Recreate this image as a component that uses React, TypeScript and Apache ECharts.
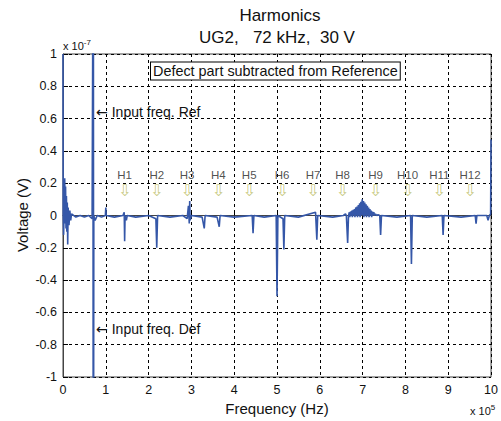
import React, { useEffect, useRef } from "react";
import * as echarts from "echarts";

// Frequency in units of 1e5 Hz, voltage in units of 1e-7 V
const freq: number[] = [
  0, 0.005, 0.015, 0.025, 0.04, 0.05, 0.06, 0.07, 0.08, 0.09, 0.1, 0.11, 0.12, 0.14, 0.16, 0.18, 0.2,
  0.3, 0.4, 0.5, 0.6, 0.68, 0.7, 0.705, 0.71, 0.715, 0.72, 0.75, 0.8, 0.9, 0.99, 1.0, 1.01,
  1.2, 1.4, 1.43, 1.44, 1.45, 1.48, 1.5, 1.7, 2.0, 2.17, 2.19, 2.21, 2.5, 2.8, 2.9, 2.93, 2.95,
  2.96, 2.97, 3.0, 3.25, 3.3, 3.32, 3.6, 3.65, 3.67, 4.0, 4.42, 4.44, 4.46, 4.7, 4.98, 5.0, 5.02,
  5.14, 5.16, 5.18, 5.5, 5.9, 5.93, 5.95, 6.3, 6.55, 6.6, 6.62, 6.65, 6.67,
  6.69, 6.7, 6.72, 6.73, 6.75, 6.76, 6.78, 6.79, 6.81, 6.82, 6.84, 6.85, 6.87, 6.88, 6.9, 6.91,
  6.93, 6.94, 6.96, 6.97, 6.99, 7.0, 7.02, 7.03, 7.05, 7.06, 7.08, 7.09, 7.11, 7.12, 7.14, 7.15,
  7.17, 7.18, 7.2, 7.21, 7.23, 7.24, 7.26, 7.28, 7.3, 7.33, 7.36, 7.4, 7.42, 7.44, 7.8, 8.12,
  8.14, 8.16, 8.5, 8.86, 8.88, 8.9, 9.3, 9.63, 9.65, 9.67, 9.9, 9.93, 9.96, 9.99, 10.0,
];
const voltage: number[] = [
  1.0, 0.0, -0.12, 0.05, 0.23, -0.05, 0.18, -0.08, 0.12, -0.1, 0.08, -0.18, 0.05, -0.06, 0.03, -0.03, 0.01,
  -0.01, 0.0, -0.01, 0.0, -0.02, 1.5, -1.5, 1.5, -1.5, 0.0, -0.03, 0.0, -0.01, 0.0, 0.05, 0.0,
  -0.01, 0.0, 0.02, -0.16, 0.0, -0.03, 0.0, -0.01, 0.0, -0.02, -0.2, 0.0, -0.01, 0.0, -0.02, 0.06, -0.05,
  0.09, -0.03, 0.0, -0.01, -0.08, 0.0, -0.01, -0.07, 0.0, -0.01, 0.0, -0.11, 0.0, -0.01, 0.0, -0.5, 0.0,
  -0.02, -0.21, 0.0, -0.01, 0.02, -0.15, 0.0, -0.01, 0.0, 0.01, 0.0, -0.17, 0.0,
  0.02, -0.01, 0.025, 0.0, 0.03, -0.01, 0.035, 0.0, 0.04, -0.01, 0.05, 0.0, 0.055, -0.01, 0.065, 0.0,
  0.075, -0.01, 0.085, 0.0, 0.1, 0.0, 0.09, -0.01, 0.08, 0.0, 0.07, -0.01, 0.06, 0.0, 0.05, -0.01,
  0.04, 0.0, 0.03, -0.01, 0.025, 0.0, 0.02, 0.0, 0.01, 0.0, 0.005, 0.0, -0.12, 0.0, -0.01, 0.0,
  -0.3, 0.0, -0.01, 0.0, -0.12, 0.0, -0.01, 0.0, -0.05, 0.0, 0.0, -0.03, 0.0, 0.01, 0.47,
];

const harmonicNames: string[] = ["H1", "H2", "H3", "H4", "H5", "H6", "H7", "H8", "H9", "H10", "H11", "H12"];
const harmonicFreq: number[] = [1.44, 2.19, 2.9, 3.63, 4.35, 5.12, 5.84, 6.53, 7.3, 8.05, 8.79, 9.51];
const harmonicLevel = 0.2;

const xTicks = { min: 0, max: 10, interval: 1 };
const yTicks = { min: -1, max: 1, interval: 0.2 };

const FONT = "'Liberation Sans', Arial, sans-serif";

export default function App() {
  const ref = useRef<HTMLDivElement>(null);
  useEffect(() => {
    if (!ref.current) return;
    const chart = echarts.init(ref.current, undefined, { renderer: "svg" });
    const lineData = freq.map((f, i) => [f, voltage[i]]);
    const harmData = harmonicFreq.map((f, i) => ({ value: [f, harmonicLevel], name: harmonicNames[i] }));
    const arrowText = (label: string) => ({
      text: `{a|←}{t|${label}}`,
      verticalAlign: "middle",
      rich: {
        a: { fontSize: 14, fontFamily: "DejaVu Sans", fill: "#111", padding: [0, 4, 0, 0] },
        t: { fontSize: 14, fontFamily: FONT, fill: "#111" },
      },
    });
    chart.setOption({
      animation: false,
      backgroundColor: "#fff",
      textStyle: { fontFamily: FONT },
      grid: {
        left: 63,
        right: 8,
        top: 54,
        bottom: 44,
        show: true,
        borderColor: "#444",
        borderWidth: 1,
        backgroundColor: "#fff",
      },
      xAxis: {
        type: "value",
        min: xTicks.min,
        max: xTicks.max,
        interval: xTicks.interval,
        axisLine: { show: true, lineStyle: { color: "#444" } },
        axisTick: { show: true, inside: true, length: 5, lineStyle: { color: "#000" } },
        axisLabel: { color: "#111", fontSize: 12.5, margin: 6, fontFamily: FONT },
        splitLine: { show: true, lineStyle: { color: "#000", type: [3, 3], width: 1 } },
      },
      yAxis: {
        type: "value",
        min: yTicks.min,
        max: yTicks.max,
        interval: yTicks.interval,
        axisLine: { show: true, lineStyle: { color: "#444" } },
        axisTick: { show: true, inside: true, length: 5, lineStyle: { color: "#000" } },
        axisLabel: {
          color: "#111",
          fontSize: 12.5,
          margin: 6,
          fontFamily: FONT,
          formatter: (v: number) => {
            const r = Math.round(v * 10) / 10;
            return r === 0 ? "0" : String(r);
          },
        },
        splitLine: { show: true, lineStyle: { color: "#000", type: [3, 3], width: 1 } },
      },
      series: [
        {
          type: "line",
          data: lineData,
          showSymbol: false,
          symbol: "none",
          clip: true,
          lineStyle: { color: "#3557a8", width: 1.6 },
          z: 3,
        },
        {
          type: "scatter",
          data: harmData,
          symbolSize: 0,
          z: 4,
          label: {
            show: true,
            position: "inside",
            formatter: (p: any) => `{h|${p.name}}\n{a|⇩}`,
            rich: {
              h: { fontSize: 11.5, color: "#222", fontFamily: FONT, lineHeight: 14 },
              a: { fontSize: 16, color: "#b9bb62", fontFamily: "DejaVu Sans", lineHeight: 17 },
            },
          },
        },
      ],
      graphic: [
        {
          type: "text",
          x: 280,
          y: 15,
          style: {
            text: "Harmonics",
            fontSize: 17,
            fill: "#111",
            fontFamily: FONT,
            align: "center",
            verticalAlign: "middle",
          },
        },
        {
          type: "text",
          x: 277,
          y: 37,
          style: {
            text: "UG2,   72 kHz,  30 V",
            fontSize: 17,
            fill: "#111",
            fontFamily: FONT,
            align: "center",
            verticalAlign: "middle",
          },
        },
        {
          type: "text",
          x: 63,
          y: 46,
          style: {
            text: "x 10{s|-7}",
            fontSize: 11,
            fill: "#111",
            fontFamily: FONT,
            verticalAlign: "middle",
            rich: { s: { fontSize: 8, padding: [0, 0, 8, 0], fill: "#111" } },
          } as any,
        },
        {
          type: "text",
          x: 470,
          y: 411,
          style: {
            text: "x 10{s|5}",
            fontSize: 11,
            fill: "#111",
            fontFamily: FONT,
            verticalAlign: "middle",
            rich: { s: { fontSize: 8, padding: [0, 0, 8, 0], fill: "#111" } },
          } as any,
        },
        {
          type: "text",
          x: 277,
          y: 408,
          style: {
            text: "Frequency (Hz)",
            fontSize: 15,
            fill: "#111",
            fontFamily: FONT,
            align: "center",
            verticalAlign: "middle",
          },
        },
        {
          type: "text",
          x: 22,
          y: 215,
          rotation: Math.PI / 2,
          style: {
            text: "Voltage (V)",
            fontSize: 15,
            fill: "#111",
            fontFamily: FONT,
            align: "center",
            verticalAlign: "middle",
          },
        },
        {
          type: "text",
          x: 96,
          y: 112,
          z: 10,
          style: arrowText("Input freq. Ref") as any,
        },
        {
          type: "text",
          x: 96,
          y: 329,
          z: 10,
          style: arrowText("Input freq. Def") as any,
        },
        {
          type: "text",
          x: 151,
          y: 71,
          z: 10,
          style: {
            text: "Defect part subtracted from Reference",
            fontSize: 14.4,
            fill: "#111",
            fontFamily: FONT,
            verticalAlign: "middle",
            backgroundColor: "#fff",
            borderColor: "#000",
            borderWidth: 1,
            padding: [2, 2, 1, 2],
          } as any,
        },
      ],
    });
    return () => chart.dispose();
  }, []);
  return <div ref={ref} style={{ width: 501, height: 421, position: "absolute", left: 0, top: 0 }} />;
}
